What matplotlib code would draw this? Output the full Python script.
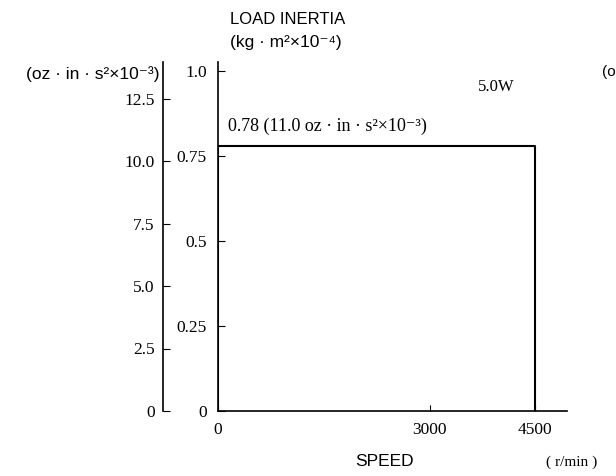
import numpy as np
import matplotlib.pyplot as plt

# data
speed = [0, 0, 4500, 4500]
inertia = [0, 0.78, 0.78, 0]
kg_ticks = [0, 0.25, 0.5, 0.75, 1.0]
kg_labels = ['0', '0.25', '0.5', '0.75', '1.0']
oz_ticks = [0, 2.5, 5.0, 7.5, 10.0, 12.5]
oz_labels = ['0', '2.5', '5.0', '7.5', '10.0', '12.5']
speed_ticks = [0, 3000, 4500]

serif = ['Liberation Serif', 'DejaVu Serif', 'DejaVu Sans']
sans = ['Liberation Sans', 'DejaVu Sans']

fig = plt.figure(figsize=(6.16, 4.76), dpi=100)
W, H = 616, 476

def rect(x0, y_top, x1, y_bot):
    return [x0 / W, 1 - y_bot / H, (x1 - x0) / W, (y_bot - y_top) / H]

# main axes (kg m^2 x 10^-4)
ax = fig.add_axes(rect(218, 62, 567, 411))
ax.plot(speed, inertia, color='black', lw=1.5)
ax.set_xlim(0, 4950)
ax.set_ylim(0, 1.0 + 9 / 340)
for s in ['top', 'right']:
    ax.spines[s].set_visible(False)
ax.spines['left'].set_linewidth(1.2)
ax.spines['bottom'].set_linewidth(1.2)
ax.set_yticks(kg_ticks)
ax.set_yticklabels(kg_labels, fontfamily=serif, fontsize=12.5)
ax.set_xticks(speed_ticks)
ax.set_xticklabels([str(t) for t in speed_ticks], fontfamily=serif, fontsize=12.5)
ax.tick_params(axis='y', direction='in', length=5, pad=8)
ax.tick_params(axis='x', direction='in', length=4, pad=8)

# outer axis (oz in s^2 x 10^-3)
ax2 = fig.add_axes(rect(163, 62, 164, 411))
ax2.set_xticks([])
ax2.set_ylim(0, 349 / 25)
for s in ['top', 'right', 'bottom']:
    ax2.spines[s].set_visible(False)
ax2.patch.set_alpha(0)
ax2.spines['left'].set_linewidth(1.2)
ax2.set_yticks(oz_ticks)
ax2.set_yticklabels(oz_labels, fontfamily=serif, fontsize=12.5)
ax2.tick_params(axis='y', direction='in', length=5, pad=6)

# labels
fig.text(230 / W, 1 - 20 / H, 'LOAD INERTIA', fontfamily=sans, fontsize=12, va='center')
fig.text(230 / W, 1 - 42 / H, '(kg · m²×10⁻⁴)', fontfamily=sans, fontsize=12.5, va='center')
fig.text(160 / W, 1 - 74 / H, '(oz · in · s²×10⁻³)', fontfamily=sans, fontsize=12.5,
         va='center', ha='right')
fig.text(602 / W, 1 - 72 / H, '(o', fontfamily=sans, fontsize=11, va='center')
fig.text(478 / W, 1 - 87 / H, '5.0W', fontfamily=serif, fontsize=12, va='center')
fig.text(228 / W, 1 - 126 / H, '0.78 (11.0 oz · in · s²×10⁻³)', fontfamily=serif,
         fontsize=13, va='center')
fig.text(385 / W, 1 - 462 / H, 'SPEED', fontfamily=sans, fontsize=12.5, va='center', ha='center')
fig.text(572 / W, 1 - 462 / H, '( r/min )', fontfamily=serif, fontsize=11, va='center', ha='center')

fig.savefig('out.png', dpi=100)
